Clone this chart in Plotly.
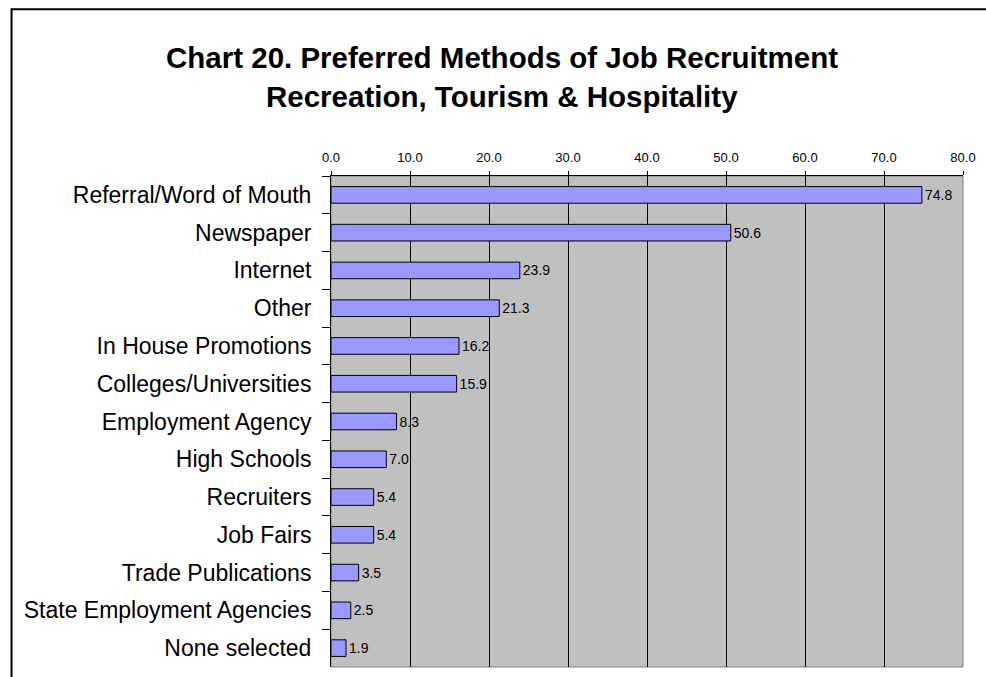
import plotly.graph_objects as go

# Survey results: preferred job recruitment methods (percent of respondents)
methods = [
    "Referral/Word of Mouth",
    "Newspaper",
    "Internet",
    "Other",
    "In House Promotions",
    "Colleges/Universities",
    "Employment Agency",
    "High Schools",
    "Recruiters",
    "Job Fairs",
    "Trade Publications",
    "State Employment Agencies",
    "None selected",
]
percent = [74.8, 50.6, 23.9, 21.3, 16.2, 15.9, 8.3, 7.0, 5.4, 5.4, 3.5, 2.5, 1.9]
x_ticks = [0, 10, 20, 30, 40, 50, 60, 70, 80]

title_lines = [
    "Chart 20. Preferred Methods of Job Recruitment",
    "Recreation, Tourism & Hospitality",
]

FONT = "Arial, Liberation Sans, sans-serif"

fig = go.Figure(
    go.Bar(
        x=percent,
        y=methods,
        orientation="h",
        marker=dict(color="#9999FF", line=dict(color="#000000", width=1)),
        text=[f"{v:.1f}" for v in percent],
        textposition="outside",
        cliponaxis=False,
        textfont=dict(family=FONT, size=14, color="#000000"),
    )
)

fig.update_layout(
    width=986,
    height=677,
    margin=dict(l=331, r=20, t=176, b=10),
    paper_bgcolor="#FFFFFF",
    plot_bgcolor="#C0C0C0",
    bargap=0.56,
    showlegend=False,
    font=dict(family=FONT, color="#000000"),
)

fig.update_xaxes(
    side="top",
    range=[0, 80],
    tickvals=x_ticks,
    ticktext=[f"{v:.1f}" for v in x_ticks],
    tickfont=dict(size=13),
    ticks="outside",
    ticklen=4,
    tickcolor="#000000",
    ticklabelstandoff=4,
    showline=True,
    linecolor="#000000",
    linewidth=1,
    showgrid=True,
    gridcolor="#000000",
    gridwidth=1,
    zeroline=False,
    fixedrange=True,
)

fig.update_yaxes(
    categoryorder="array",
    categoryarray=methods,
    autorange="reversed",
    tickfont=dict(size=23),
    ticks="outside",
    ticklen=8,
    tickcolor="#000000",
    tickson="boundaries",
    ticklabelstandoff=14,
    showline=True,
    linecolor="#000000",
    linewidth=1,
    showgrid=False,
    fixedrange=True,
)

# Plot area border (right and bottom edges in gray)
fig.add_shape(
    type="rect", xref="paper", yref="paper",
    x0=0, x1=1, y0=0, y1=1,
    line=dict(color="#808080", width=1),
    layer="below",
)

# Outer chart frame
fig.add_shape(
    type="rect", xref="paper", yref="paper",
    x0=-0.5055, x1=1.2, y0=-0.2, y1=1.3395,
    line=dict(color="#000000", width=2),
    fillcolor="rgba(0,0,0,0)",
)

# Two-line bold title
for line, y_px in zip(title_lines, [58, 96]):
    fig.add_annotation(
        text=f"<b>{line}</b>",
        xref="paper", yref="paper",
        x=(503 - 331) / 635,
        y=1 + (176 - y_px) / 491,
        xanchor="center", yanchor="middle",
        showarrow=False,
        font=dict(family=FONT, size=29.5, color="#000000"),
    )

fig.write_html("out.html")
